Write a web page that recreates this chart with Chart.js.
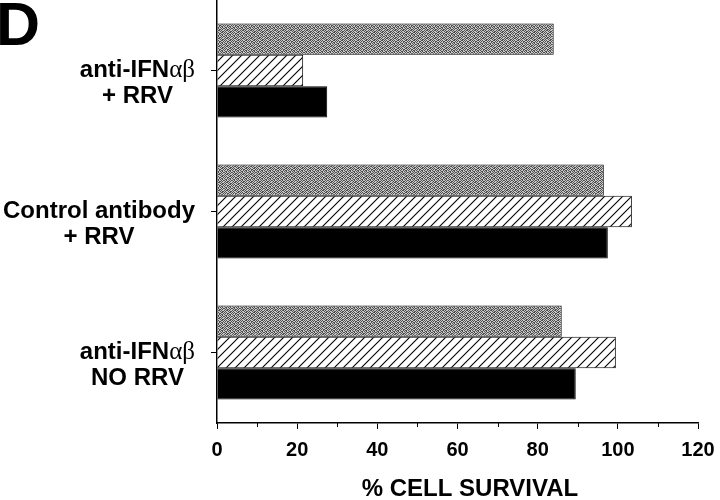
<!DOCTYPE html>
<html>
<head>
<meta charset="utf-8">
<script src="https://cdn.jsdelivr.net/npm/chart.js@4/dist/chart.umd.min.js"></script>
<style>
  html, body { margin: 0; padding: 0; background: #fff; }
</style>
</head>
<body>
<canvas id="survivalChart" width="720" height="500"></canvas>
<script>
const categories = [
  ["anti-IFNαβ", "+ RRV"],
  ["Control antibody", "+ RRV"],
  ["anti-IFNαβ", "NO RRV"]
];
const stippledValues = [84, 96.5, 86];
const hatchedValues = [21.5, 103.5, 99.5];
const solidValues = [27.5, 97.5, 89.5];
const minorTicks = [10, 30, 50, 70, 90, 110];
const axisTitle = "% CELL SURVIVAL";
const panelLetter = "D";

const SANS = "'Liberation Sans', Arial, Helvetica, sans-serif";
const SERIF = "'Liberation Serif', 'Times New Roman', serif";

// halftone-ish grey fill, dark dots marked with 1
const STIPPLE = [
  "10100110",
  "01011001",
  "10010110",
  "01101010",
  "10100101",
  "01011010",
  "10110100",
  "01001011"
];

function stipplePattern() {
  const c = document.createElement("canvas");
  c.width = 8; c.height = 8;
  const g = c.getContext("2d");
  g.fillStyle = "#c8c8c8";
  g.fillRect(0, 0, 8, 8);
  g.fillStyle = "#4e4e4e";
  STIPPLE.forEach((row, yy) => {
    row.split("").forEach((bit, xx) => { if (bit === "1") g.fillRect(xx, yy, 1, 1); });
  });
  return g.createPattern(c, "repeat");
}

function hatchPattern() {
  const s = 9;
  const c = document.createElement("canvas");
  c.width = s; c.height = s;
  const g = c.getContext("2d");
  g.fillStyle = "#fff";
  g.fillRect(0, 0, s, s);
  g.strokeStyle = "#000";
  g.lineWidth = 1.1;
  g.beginPath();
  g.moveTo(-1, s + 1); g.lineTo(s + 1, -1);
  g.moveTo(-2, 2); g.lineTo(2, -2);
  g.moveTo(s - 2, s + 2); g.lineTo(s + 2, s - 2);
  g.stroke();
  return g.createPattern(c, "repeat");
}

// split a label into bold latin runs and plain greek runs
function runs(text) {
  return text.split(/([α-ω]+)/).filter(t => t.length).map(t => ({
    text: t,
    font: /[α-ω]/.test(t) ? "normal 25px " + SERIF : "bold 24px " + SANS
  }));
}

function lineWidth(ctx, text) {
  return runs(text).reduce((w, r) => { ctx.font = r.font; return w + ctx.measureText(r.text).width; }, 0);
}

const decorations = {
  id: "decorations",
  afterDraw(chart) {
    const ctx = chart.ctx;
    const x = chart.scales.x;
    const y = chart.scales.y;
    const area = chart.chartArea;
    ctx.save();
    ctx.fillStyle = "#000";
    ctx.strokeStyle = "#000";

    // minor ticks on the value axis
    ctx.lineWidth = 1;
    minorTicks.forEach(v => {
      const px = Math.round(x.getPixelForValue(v)) + 0.5;
      ctx.beginPath();
      ctx.moveTo(px, area.bottom);
      ctx.lineTo(px, area.bottom + 4);
      ctx.stroke();
    });

    // category labels: block right aligned, lines centered
    ctx.textBaseline = "middle";
    ctx.textAlign = "left";
    const blockRight = 195;
    categories.forEach((lines, i) => {
      const yc = y.getPixelForValue(i);
      const widths = lines.map(l => lineWidth(ctx, l));
      const blockW = Math.max(...widths);
      const cx = blockRight - blockW / 2;
      lines.forEach((l, j) => {
        let px = cx - widths[j] / 2;
        runs(l).forEach(r => {
          ctx.font = r.font;
          ctx.fillText(r.text, px, yc + j * 26);
          px += ctx.measureText(r.text).width;
        });
      });
    });

    // axis title
    ctx.font = "bold 24px " + SANS;
    ctx.textAlign = "center";
    ctx.textBaseline = "alphabetic";
    ctx.fillText(axisTitle, 470, 496);

    // panel letter
    ctx.font = "bold 61px " + SANS;
    ctx.textAlign = "left";
    ctx.fillText(panelLetter, -4, 45);
    ctx.restore();
  }
};

const ctx = document.getElementById("survivalChart");

new Chart(ctx, {
  type: "bar",
  data: {
    labels: categories,
    datasets: [
      {
        label: "Stippled",
        data: stippledValues,
        backgroundColor: stipplePattern(),
        borderColor: "#000",
        borderWidth: 1
      },
      {
        label: "Hatched",
        data: hatchedValues,
        backgroundColor: hatchPattern(),
        borderColor: "#000",
        borderWidth: 1
      },
      {
        label: "Solid",
        data: solidValues,
        backgroundColor: "#000",
        borderColor: "#000",
        borderWidth: 1
      }
    ]
  },
  options: {
    indexAxis: "y",
    responsive: false,
    animation: false,
    devicePixelRatio: 1,
    layout: { padding: { left: 0, right: 22, top: 0, bottom: 0 } },
    datasets: {
      bar: { categoryPercentage: 0.667, barPercentage: 1 }
    },
    plugins: {
      legend: { display: false },
      tooltip: { enabled: false }
    },
    scales: {
      y: {
        grid: { offset: false, drawOnChartArea: false, tickLength: 6, color: "#000", lineWidth: 1 },
        border: { color: "#000", width: 1.5 },
        ticks: { display: false },
        afterFit: function(scale) { scale.width = 217; }
      },
      x: {
        min: 0,
        max: 120,
        ticks: {
          stepSize: 20,
          color: "#000",
          padding: 9,
          font: { family: SANS, size: 20, weight: "bold" }
        },
        grid: { drawOnChartArea: false, tickLength: 6, color: "#000", lineWidth: 1 },
        border: { color: "#000", width: 1.5 },
        afterFit: function(scale) {
          scale.height = 77;
          scale.paddingRight = 0;
        }
      }
    }
  },
  plugins: [decorations]
});
</script>
</body>
</html>
